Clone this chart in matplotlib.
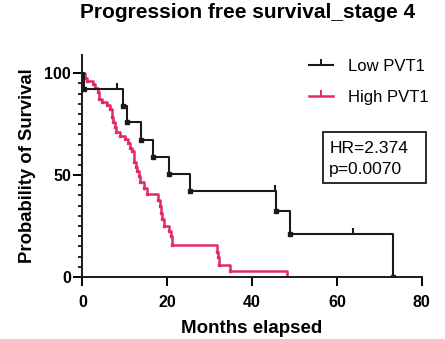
import matplotlib
matplotlib.use("Agg")
import matplotlib.pyplot as plt
from matplotlib.lines import Line2D
from matplotlib.patches import Rectangle
import matplotlib.markers as mmarkers

plt.rcParams['font.family'] = ['Liberation Sans', 'DejaVu Sans']

title = "Progression free survival_stage 4"
xlabel = "Months elapsed"
ylabel = "Probability of Survival"
series_names = ["Low PVT1", "High PVT1"]
hr_lines = ["HR=2.374", "p=0.0070"]

# Low PVT1 Kaplan-Meier steps (time, survival after step)
low_t = [0, 0.5, 9.5, 10.6, 13.8, 16.6, 20.5, 25.4, 45.7, 49.0, 73.2]
low_s = [100, 92.3, 84.0, 76.0, 67.3, 58.9, 50.6, 42.0, 32.5, 21.3, 0]
low_end = 73.2
low_censor_t = [8.1, 45.5, 63.7]
low_censor_s = [92.3, 42.0, 21.3]

# High PVT1 Kaplan-Meier steps
high_t = [0, 0.6, 1.0, 2.5, 3.0, 3.6, 3.9, 4.6, 5.9, 6.5, 6.9, 7.3, 7.6, 8.0, 8.8,
          10.0, 10.8, 11.2, 11.6, 12.1, 12.6, 13.0, 13.3, 13.7, 14.5, 15.2,
          17.9, 18.2, 18.6, 18.8, 19.2, 20.4, 20.8, 21.2, 31.7, 31.9, 32.1, 34.8, 48.3]
high_s = [100, 97.5, 96.0, 94.6, 92.8, 90.7, 87.4, 85.8, 84.2, 82.5, 78.4, 76.0, 73.5, 71.0, 69.4,
          67.6, 66.0, 63.5, 61.9, 56.5, 54.0, 52.0, 49.6, 46.4, 43.9, 40.8,
          38.0, 34.8, 31.5, 28.3, 25.0, 22.5, 20.0, 15.5, 12.4, 10.0, 5.9, 2.9, 0]
high_end = 48.3

black = "#1a1a1a"
red = "#e2296f"

fig = plt.figure(figsize=(4.45, 3.39), dpi=100)
ax = fig.add_axes([0.185, 0.183, 0.763, 0.655])

ax.step(low_t + [low_end], low_s + [low_s[-1]], where='post', color=black, lw=1.5, zorder=3)
ax.plot(low_t[1:], low_s[1:], ls='none', marker='s', ms=2.2, color=black, zorder=4)
ax.plot(low_censor_t, low_censor_s, ls='none', marker=mmarkers.TICKUP, ms=4, mew=1.5, color=black, zorder=4)

ax.step(high_t + [high_end], high_s + [high_s[-1]], where='post', color=red, lw=1.8, zorder=2)
ax.plot(high_t[1:], high_s[1:], ls='none', marker='s', ms=2.0, color=red, zorder=2)

ax.set_xlim(0, 80)
ax.set_ylim(0, 109)
ax.set_xticks([0, 20, 40, 60, 80])
ax.set_yticks([0, 50, 100])
ax.set_yticks(range(0, 101, 5), minor=True)
ax.tick_params(axis='both', which='major', length=6.5, width=1.4, labelsize=11.5, direction='out')
ax.tick_params(axis='x', which='major', pad=6.5)
ax.tick_params(axis='y', which='major', pad=1.5)
ax.tick_params(axis='y', which='minor', length=3, width=1.2)
for lab in ax.get_xticklabels() + ax.get_yticklabels():
    lab.set_fontweight('bold')
for s in ['top', 'right']:
    ax.spines[s].set_visible(False)
for s in ['left', 'bottom']:
    ax.spines[s].set_linewidth(1.4)
    ax.spines[s].set_color(black)

ax.set_xlabel(xlabel, fontsize=13.5, fontweight='bold', labelpad=7)
ax.set_ylabel(ylabel, fontsize=13.3, fontweight='bold', labelpad=6)
fig.suptitle(title, fontsize=15, fontweight='bold', x=0.556, y=0.99)

handles = [Line2D([0], [0], color=black, lw=1.5, marker=mmarkers.TICKUP, ms=4, mew=1.4),
           Line2D([0], [0], color=red, lw=1.8, marker=mmarkers.TICKUP, ms=4, mew=1.4)]
fig.legend(handles, series_names, loc='upper left', bbox_to_anchor=(309 / 445, 1 - 59 / 339),
           frameon=False, fontsize=12, handlelength=1.45, handletextpad=0.9,
           labelspacing=0.95, numpoints=1, borderpad=0, borderaxespad=0)

ax.add_patch(Rectangle((0.708, 0.422), 0.305, 0.232, transform=ax.transAxes, fill=True,
                       fc='white', ec=black, lw=1.3, clip_on=False, zorder=5))
ax.text(0.727, 0.559, hr_lines[0], transform=ax.transAxes, fontsize=12.6, va='baseline',
        ha='left', zorder=6)
ax.text(0.727, 0.464, hr_lines[1], transform=ax.transAxes, fontsize=12.6, va='baseline',
        ha='left', zorder=6)

fig.savefig("out.png", dpi=100)
